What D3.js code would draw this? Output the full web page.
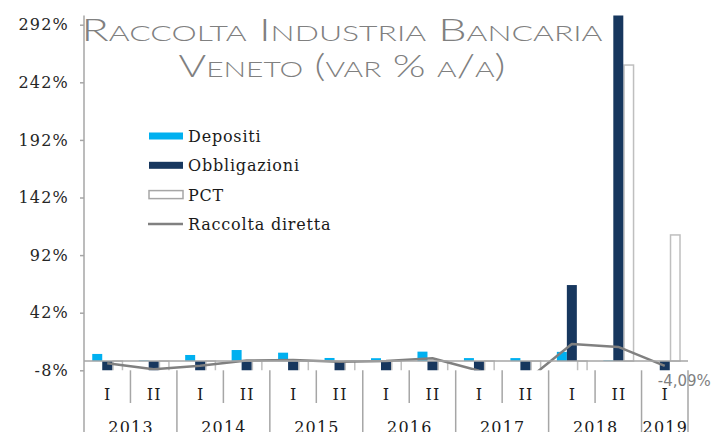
<!DOCTYPE html>
<html>
<head>
<meta charset="utf-8">
<script src="https://cdn.jsdelivr.net/npm/d3@7"></script>
<style>
    html, body { margin: 0; padding: 0; background: #fff; }
    svg { display: block; }
</style>
</head>
<body>
<svg id="chart"></svg>
<script>

// dati (var % a/a)
const categories = ['2013 I', '2013 II', '2014 I', '2014 II', '2015 I', '2015 II', '2016 I', '2016 II',
    '2017 I', '2017 II', '2018 I', '2018 II', '2019 I'];
const periods = ['I', 'II', 'I', 'II', 'I', 'II', 'I', 'II', 'I', 'II', 'I', 'II', 'I'];
const years = ['2013', '2014', '2015', '2016', '2017', '2018', '2019'];
const yearSpan = [2, 2, 2, 2, 2, 2, 1];

const depositi     = [6.2, 0.5, 5.3, 9.6, 7.3, 2.7, 2.5, 8.2, 2.6, 2.6, 8, 0.5, 0];
const obbligazioni = [-9, -9.5, -9, -10, -9, -9.5, -9, -9, -10, -10.5, 66, 330, -9];
const pct          = [-20, -25, -18, -30, -22, -35, -28, -40, -30, -45, -50, 257, 109.5];
const raccolta     = [-1.9, -7, -4, 0.5, 1, -0.5, 0, 2.4, -8.4, -17.6, 14.8, 12.3, -4.09];

const yTicks = [-8, 42, 92, 142, 192, 242, 292];
const yDomain = [-8, 300];

const legendItems = ['Depositi', 'Obbligazioni', 'PCT', 'Raccolta diretta'];
const lastLabel = '-4,09%';

const width = 718;
const height = 432;

let svg = d3.select('#chart')
    .attr('width', width)
    .attr('height', height);

// scale
let x0 = d3.scaleBand()
    .domain(categories)
    .range([84, 688])
    .padding(0);

let groupWidth = x0.bandwidth() * 0.645;

let x1 = d3.scaleBand()
    .domain(['dep', 'obb', 'pct'])
    .range([0, groupWidth])
    .padding(0);

let y = d3.scaleLinear()
    .domain(yDomain)
    .range([370.3, 15.5]);

const axisColor = '#a6a6a6';
const serif = "'DejaVu Serif', 'Liberation Serif', serif";

svg.append('clipPath')
    .attr('id', 'plot-clip')
    .append('rect')
    .attr('x', 84)
    .attr('y', y(yDomain[1]))
    .attr('width', 604)
    .attr('height', y(yDomain[0]) - y(yDomain[1]));

// titolo
let title = svg.append('g')
    .attr('font-family', "Lato, 'Open Sans', sans-serif")
    .attr('font-size', 31)
    .attr('font-weight', 300)
    .style('font-variant', 'small-caps')
    .attr('fill', '#808080')
    .attr('text-anchor', 'middle');

title.append('text')
    .attr('x', 342)
    .attr('y', 41)
    .attr('textLength', 521)
    .attr('lengthAdjust', 'spacingAndGlyphs')
    .text('Raccolta Industria Bancaria');

title.append('text')
    .attr('x', 342)
    .attr('y', 77)
    .attr('textLength', 327)
    .attr('lengthAdjust', 'spacingAndGlyphs')
    .text('Veneto (var % a/a)');

// asse y
let yAxis = svg.append('g')
    .attr('transform', 'translate(84,0)')
    .call(d3.axisLeft(y).tickValues(yTicks).tickSize(4).tickFormat(d => d + '%'));

yAxis.select('.domain').remove();
yAxis.selectAll('.tick line').attr('stroke', axisColor).attr('stroke-width', 1.5);
yAxis.selectAll('.tick text')
    .attr('x', -15)
    .attr('font-family', serif)
    .attr('font-size', 16)
    .attr('letter-spacing', 1.2)
    .attr('fill', '#262626');

svg.append('line')
    .attr('x1', 84).attr('x2', 84)
    .attr('y1', y(yDomain[1])).attr('y2', height)
    .attr('stroke', axisColor)
    .attr('stroke-width', 1.5);

// barre
let plot = svg.append('g').attr('clip-path', 'url(#plot-clip)');

function barY(v) { return Math.min(y(v), y(0)); }
function barH(v) { return Math.abs(y(v) - y(0)); }
let offset = (x0.bandwidth() - groupWidth) / 2;

plot.selectAll('.bar-pct')
    .data(pct)
    .enter()
    .append('rect')
    .attr('class', 'bar-pct')
    .attr('x', (d, i) => x0(categories[i]) + offset + x1('pct') + 0.75)
    .attr('y', d => barY(d))
    .attr('width', x1.bandwidth() - 0.5)
    .attr('height', d => barH(d))
    .attr('fill', '#fff')
    .attr('stroke', '#bfbfbf')
    .attr('stroke-width', 1.5);

plot.selectAll('.bar-dep')
    .data(depositi)
    .enter()
    .append('rect')
    .attr('class', 'bar-dep')
    .attr('x', (d, i) => x0(categories[i]) + offset + x1('dep'))
    .attr('y', d => barY(d))
    .attr('width', x1.bandwidth())
    .attr('height', d => barH(d))
    .attr('fill', '#00b0f0');

plot.selectAll('.bar-obb')
    .data(obbligazioni)
    .enter()
    .append('rect')
    .attr('class', 'bar-obb')
    .attr('x', (d, i) => x0(categories[i]) + offset + x1('obb'))
    .attr('y', d => barY(d))
    .attr('width', x1.bandwidth())
    .attr('height', d => barH(d))
    .attr('fill', '#17375e');

// asse x (linea dello zero)
svg.append('line')
    .attr('x1', 84).attr('x2', 688)
    .attr('y1', y(0)).attr('y2', y(0))
    .attr('stroke', axisColor)
    .attr('stroke-width', 1.5);

// linea raccolta diretta
let line = d3.line()
    .x((d, i) => x0(categories[i]) + x0.bandwidth() / 2)
    .y(d => y(d));

plot.append('path')
    .datum(raccolta)
    .attr('d', line)
    .attr('fill', 'none')
    .attr('stroke', '#808080')
    .attr('stroke-width', 2.5)
    .attr('stroke-linejoin', 'round');

svg.append('text')
    .attr('x', x0(categories[12]) + x0.bandwidth() / 2 - 7)
    .attr('y', y(raccolta[12]) + 20)
    .attr('font-family', "'DejaVu Sans', sans-serif")
    .attr('font-size', 15)
    .attr('fill', '#7f7f7f')
    .text(lastLabel);

// etichette categorie
let xLabels = svg.append('g')
    .attr('font-family', serif)
    .attr('font-size', 16)
    .attr('letter-spacing', 1.2)
    .attr('fill', '#1a1a1a')
    .attr('text-anchor', 'middle');

xLabels.selectAll('.period')
    .data(periods)
    .enter()
    .append('text')
    .attr('class', 'period')
    .attr('x', (d, i) => x0(categories[i]) + x0.bandwidth() / 2 + 0.6)
    .attr('y', 400)
    .text(d => d);

// separatori
svg.selectAll('.sep')
    .data(categories.slice(1))
    .enter()
    .append('line')
    .attr('class', 'sep')
    .attr('x1', d => x0(d)).attr('x2', d => x0(d))
    .attr('y1', y(yDomain[0]))
    .attr('y2', d => periods[categories.indexOf(d)] === 'I' ? height : 403)
    .attr('stroke', axisColor)
    .attr('stroke-width', 1.5);

svg.append('line')
    .attr('x1', 688).attr('x2', 688)
    .attr('y1', y(yDomain[0])).attr('y2', height)
    .attr('stroke', axisColor)
    .attr('stroke-width', 1.5);

let start = 0;
years.forEach((yr, j) => {
    let first = x0(categories[start]);
    let last = x0(categories[start + yearSpan[j] - 1]) + x0.bandwidth();
    xLabels.append('text')
        .attr('x', (first + last) / 2 + 0.6)
        .attr('y', 433)
        .text(yr);
    start += yearSpan[j];
});

// legenda
let legend = svg.append('g')
    .attr('font-family', serif)
    .attr('font-size', 16)
    .attr('letter-spacing', 0.8)
    .attr('fill', '#1a1a1a');

legendItems.forEach((name, i) => {
    let ly = 136 + i * 29.3;
    let g = legend.append('g');
    if (i === 0 || i === 1) {
        g.append('rect')
            .attr('x', 149).attr('y', ly - 3.5)
            .attr('width', 34).attr('height', 7)
            .attr('fill', i === 0 ? '#00b0f0' : '#17375e');
    } else if (i === 2) {
        g.append('rect')
            .attr('x', 149).attr('y', ly - 4)
            .attr('width', 34).attr('height', 8)
            .attr('fill', '#fff')
            .attr('stroke', '#a6a6a6')
            .attr('stroke-width', 1.5);
    } else {
        g.append('line')
            .attr('x1', 148).attr('x2', 183)
            .attr('y1', ly).attr('y2', ly)
            .attr('stroke', '#808080')
            .attr('stroke-width', 2.5);
    }
    g.append('text')
        .attr('x', 188)
        .attr('y', ly + 6)
        .text(name);
});

</script>
</body>
</html>
